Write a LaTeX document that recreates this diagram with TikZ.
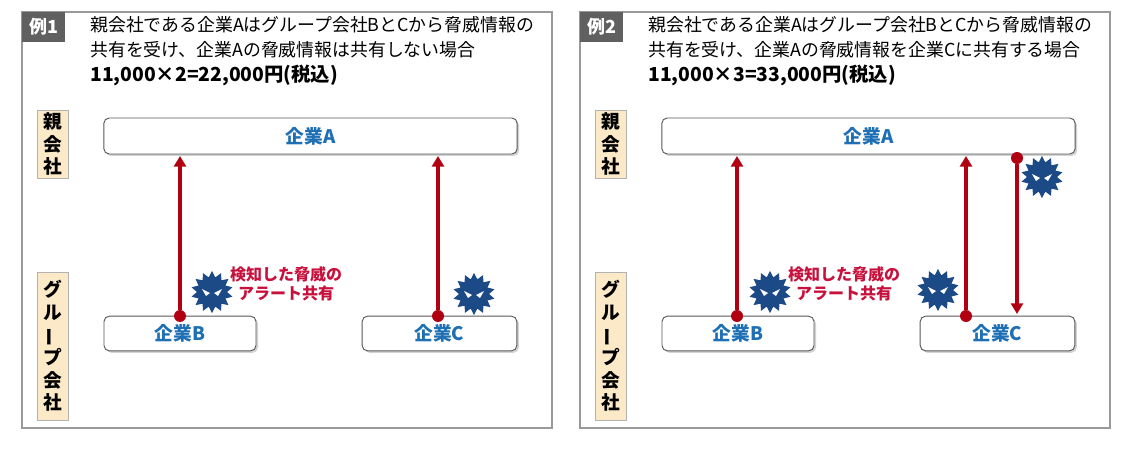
\documentclass[tikz,border=0pt]{standalone}
\usepackage{fontspec}
\setmainfont{Noto Sans CJK JP}
\usetikzlibrary{shapes.geometric,arrows.meta,shadows}
\definecolor{bluet}{HTML}{1F6FB5}
\definecolor{darkred}{HTML}{B00012}
\definecolor{crim}{HTML}{C8103C}
\definecolor{beige}{HTML}{FBE9C8}
\definecolor{navy}{HTML}{1B4A86}
\newcommand{\vbar}{\rotatebox[origin=c]{90}{ー}}
\tikzset{
 frame/.style={draw=gray!80,line width=0.8pt},
 co/.style={draw=gray!70!black,fill=white,rounded corners=4pt,line width=0.7pt,drop shadow={shadow xshift=1.5pt,shadow yshift=-1.5pt,opacity=0.35},font=\bfseries\fontsize{14}{14}\selectfont,text=bluet},
 side/.style={draw=gray!60,fill=beige,font=\bfseries\fontsize{14}{17}\selectfont,align=center,inner sep=0pt},
 tagt/.style={text=white,font=\bfseries\fontsize{13.5}{13.5}\selectfont},
 arr/.style={darkred,line width=2.3pt,-{Triangle[length=8pt,width=9pt]}},
 dot/.style={circle,fill=darkred,inner sep=0pt,minimum size=9pt},
 lbl/.style={text=crim,font=\bfseries\fontsize{12}{14.5}\selectfont,align=center},
 ttl/.style={anchor=north west,align=left,font=\fontsize{13.4}{18.7}\selectfont,inner sep=0pt}
}
\newcommand{\virus}[2]{%
 \fill[navy] (#1,#2) +(0:15) \foreach \i in {1,...,27}{ -- +({\i*360/28}:{ifthenelse(mod(\i,2)==1,21,15)}) } -- cycle;
 \fill[white] (#1-10,#2-3) -- (#1-2,#2+1) -- (#1-6,#2+4) -- cycle;
 \fill[white] (#1+10,#2-3) -- (#1+2,#2+1) -- (#1+6,#2+4) -- cycle;
}
\begin{document}
\begin{tikzpicture}[x=0.75pt,y=-0.75pt]
\useasboundingbox (0,0) rectangle (1122,467);
\fill[white] (0,0) rectangle (1122,467);
% ---------- panel 1
\draw[frame] (22,12) rectangle (552,428);
\fill[gray!75!black] (22,12) rectangle (65,42); \node[tagt] (t1) at (43.5,27) {例1};
\node[ttl] (h1) at (90,16) {親会社である企業Aはグループ会社BとCから脅威情報の\\共有を受け、企業Aの脅威情報は共有しない場合\\{\bfseries\fontsize{14.5}{18.7}\selectfont 11,000×2=22,000円(税込)}};
\node[side,minimum width=23pt,minimum height=51pt] (p1) at (52.5,144) {親\\会\\社};
\node[side,minimum width=23pt,minimum height=111pt] (g1) at (52.5,346) {グ\\ル\\\vbar\\プ\\会\\社};
\node[co,minimum width=310pt,minimum height=27pt] (A1) at (310.5,136) {企業A};
\node[co,minimum width=114pt,minimum height=26pt] (B1) at (180,333.5) {企業B};
\node[co,minimum width=116pt,minimum height=26pt] (C1) at (439.5,333.5) {企業C};
\node[dot] (b1) at (180,316) {}; \coordinate (a1) at (180,156);
\node[dot] (c1) at (438,316) {}; \coordinate (a2) at (438,156);
\draw[arr] (b1) -- (a1); \draw[arr] (c1) -- (a2);
\virus{212}{292}\virus{474}{294}
\node[lbl] (l1) at (286,284) {検知した脅威の\\アラート共有};
% ---------- panel 2
\draw[frame] (580,12) rectangle (1110,428);
\fill[gray!75!black] (580,12) rectangle (623,42); \node[tagt] (t2) at (601.5,27) {例2};
\node[ttl] (h2) at (648,16) {親会社である企業Aはグループ会社BとCから脅威情報の\\共有を受け、企業Aの脅威情報を企業Cに共有する場合\\{\bfseries\fontsize{14.5}{18.7}\selectfont 11,000×3=33,000円(税込)}};
\node[side,minimum width=23pt,minimum height=51pt] (p2) at (610.5,144) {親\\会\\社};
\node[side,minimum width=23pt,minimum height=111pt] (g2) at (610.5,346) {グ\\ル\\\vbar\\プ\\会\\社};
\node[co,minimum width=310pt,minimum height=27pt] (A2) at (868.5,136) {企業A};
\node[co,minimum width=114pt,minimum height=26pt] (B2) at (738,333.5) {企業B};
\node[co,minimum width=116pt,minimum height=26pt] (C2) at (997.5,333.5) {企業C};
\node[dot] (b2) at (737,316) {}; \coordinate (a3) at (737,156);
\node[dot] (c2) at (966,316) {}; \coordinate (a4) at (966,156);
\node[dot] (d2) at (1017,158) {}; \coordinate (e2) at (1017,314);
\draw[arr] (b2) -- (a3); \draw[arr] (c2) -- (a4); \draw[arr] (d2) -- (e2);
\virus{770}{292}\virus{938}{290}\virus{1042}{177}
\node[lbl] (l2) at (844,284) {検知した脅威の\\アラート共有};
\end{tikzpicture}
\end{document}
